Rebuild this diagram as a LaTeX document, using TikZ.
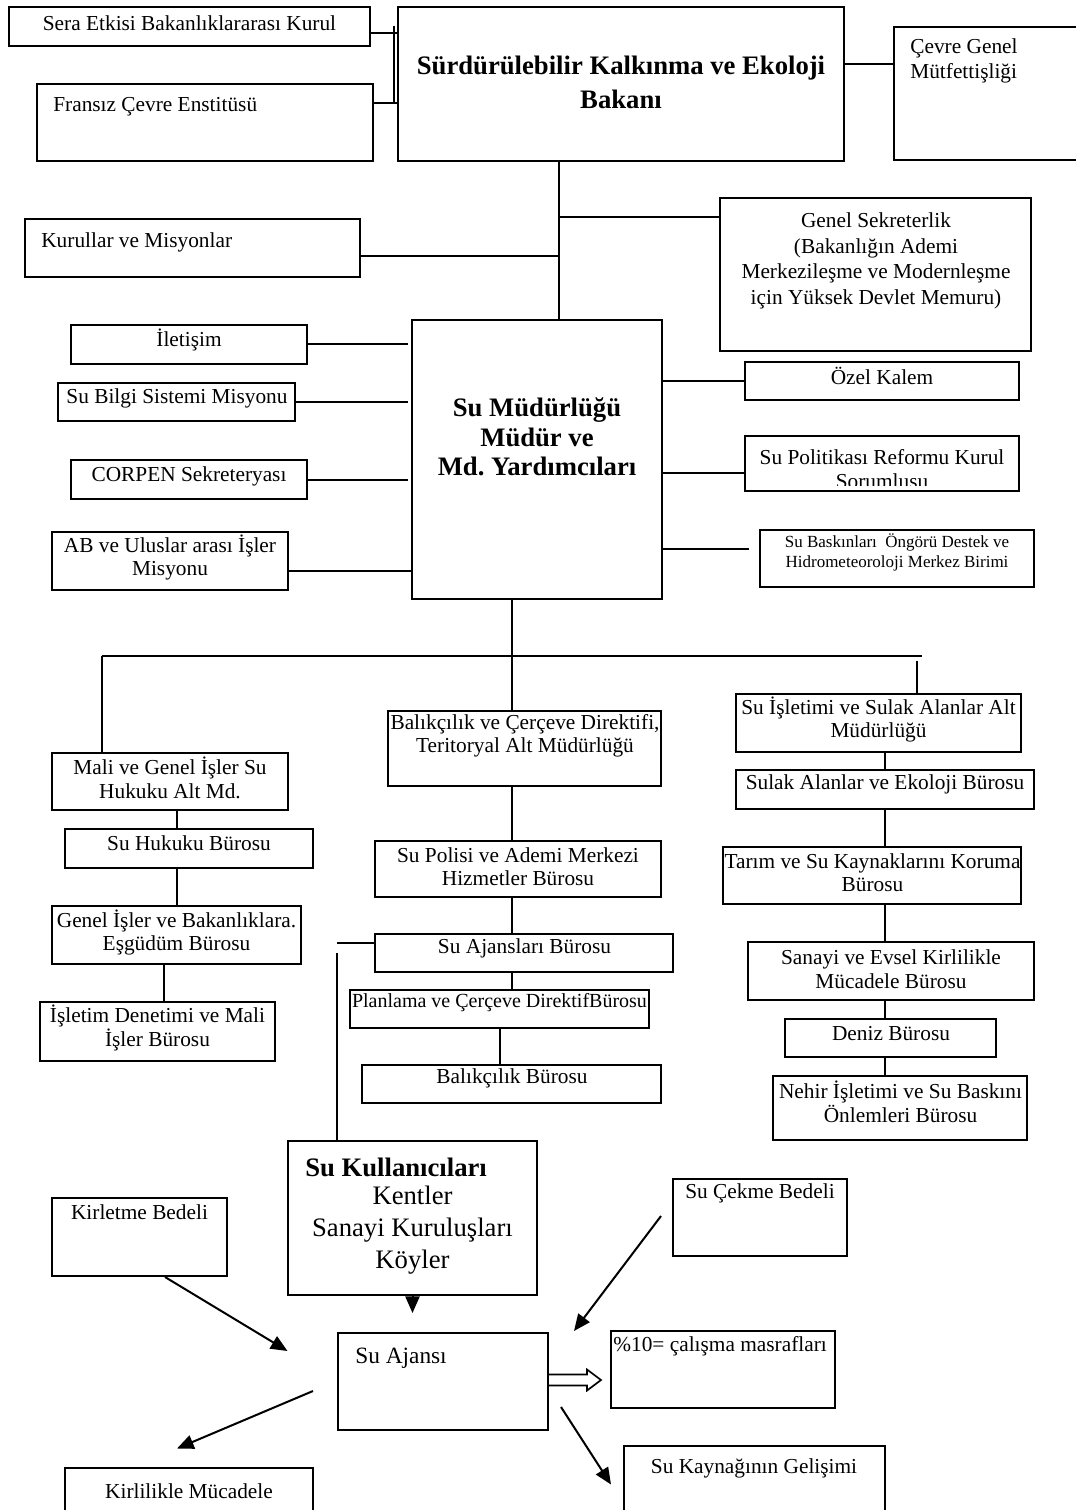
\documentclass[tikz,border=0pt]{standalone}
\usepackage{fontspec}
\setmainfont{Liberation Serif}
\usetikzlibrary{arrows.meta,fit,calc}
\frenchspacing

% a framed box given by two opposite corners
\newcommand\orgbox[5]{\node[box,fit={(#2,#3) (#4,#5)}] (#1) {};}

\begin{document}
\begin{tikzpicture}[x=0.6pt,y=-0.6pt,
  box/.style={draw,line width=1.2pt,rectangle,inner sep=0pt},
  txt/.style={inner sep=0pt,align=center,font=\fontsize{12.8}{14.1}\selectfont},
  lnk/.style={line width=1.2pt},
  arr/.style={line width=1.2pt,-{Triangle[length=10pt,width=8.5pt]}},
]
\useasboundingbox (0,0) rectangle (1076,1510);
\fill[white] (0,0) rectangle (1076,1510);
\clip (0,0) rectangle (1076,1510);

% ---------- boxes ----------
\orgbox{sera}{9}{7}{370}{46}
\orgbox{bakan}{398}{7}{844}{161}
\orgbox{fransiz}{37}{84}{373}{161}
\orgbox{cevre}{894}{27}{1090}{160}
\orgbox{kurul}{25}{219}{360}{277}
\orgbox{gensek}{720}{198}{1031}{351}
\orgbox{sumud}{412}{320}{662}{599}
\orgbox{iletisim}{71}{325}{307}{364}
\orgbox{bilgi}{58}{383}{295}{421}
\orgbox{corpen}{71}{460}{307}{499}
\orgbox{ab}{52}{532}{288}{590}
\orgbox{ozel}{745}{362}{1019}{400}
\orgbox{polit}{745}{436}{1019}{491}
\orgbox{baskin}{760}{530}{1034}{587}
\orgbox{mali}{52}{753}{288}{810}
\orgbox{hukuk}{65}{829}{313}{868}
\orgbox{genis}{52}{906}{301}{964}
\orgbox{isletim}{40}{1002}{275}{1061}
\orgbox{balik}{388}{711}{661}{786}
\orgbox{polis}{375}{841}{661}{897}
\orgbox{ajans}{375}{934}{673}{972}
\orgbox{plan}{350}{990}{649}{1028}
\orgbox{balburo}{362}{1065}{661}{1103}
\orgbox{suis}{736}{694}{1021}{752}
\orgbox{sulak}{736}{770}{1034}{809}
\orgbox{tarim}{723}{847}{1021}{904}
\orgbox{sanayi}{748}{942}{1034}{1000}
\orgbox{deniz}{785}{1019}{996}{1057}
\orgbox{nehir}{773}{1076}{1027}{1140}
\orgbox{kullan}{288}{1141}{537}{1295}
\orgbox{kirlet}{52}{1198}{227}{1276}
\orgbox{cekme}{673}{1179}{847}{1256}
\orgbox{ajansi}{338}{1333}{548}{1430}
\orgbox{masraf}{611}{1331}{835}{1408}
\orgbox{mucadele}{65}{1468}{313}{1530}
\orgbox{gelisim}{624}{1446}{885}{1530}

% ---------- texts ----------
\node[txt] (t-sera) at (189.5,23) {Sera Etkisi Bakanlıklararası Kurul};
\node[txt,font=\bfseries\fontsize{16}{20.4}\selectfont] (t-bakan) at (621,82) {Sürdürülebilir Kalkınma ve Ekoloji\\Bakanı};
\node[txt,anchor=west] (t-fransiz) at (53,107) {Fransız Çevre Enstitüsü};
\node[txt,anchor=west,align=left,font=\fontsize{12.8}{15}\selectfont] (t-cevre) at (910,60.5) {Çevre Genel\\Mütfettişliği};
\node[txt,anchor=west] (t-kurul) at (41,242) {Kurullar ve Misyonlar};
\node[txt,font=\fontsize{12.8}{15.3}\selectfont] (t-gensek) at (876,261) {Genel Sekreterlik\\(Bakanlığın Ademi\\Merkezileşme ve Modernleşme\\için Yüksek Devlet Memuru)};
\node[txt,font=\bfseries\fontsize{16}{17.7}\selectfont] (t-sumud) at (537,437) {Su Müdürlüğü\\Müdür ve\\Md. Yardımcıları};
\node[txt] (t-iletisim) at (189,340) {İletişim};
\node[txt] (t-bilgi) at (177,398) {Su Bilgi Sistemi Misyonu};
\node[txt] (t-corpen) at (189,476) {CORPEN Sekreteryası};
\node[txt] (t-ab) at (170,557.5) {AB ve Uluslar arası İşler\\Misyonu};
\node[txt] (t-ozel) at (882,376) {Özel Kalem};
\begin{scope}
  % the second line is cut off by the frame
  \clip (745,436) rectangle (1019,485);
  \node[txt] (t-polit) at (882,469) {Su Politikası Reformu Kurul\\Sorumlusu};
\end{scope}
\node[txt,font=\fontsize{10.2}{12}\selectfont] (t-baskin) at (897,552) {Su Baskınları\ \ Öngörü Destek ve\\Hidrometeoroloji Merkez Birimi};
\node[txt] (t-mali) at (170,778) {Mali ve Genel İşler Su\\Hukuku Alt Md.};
\node[txt] (t-hukuk) at (189,843) {Su Hukuku Bürosu};
\node[txt] (t-genis) at (176.5,932.5) {Genel İşler ve Bakanlıklara.\\Eşgüdüm Bürosu};
\node[txt] (t-isletim) at (157.5,1028) {İşletim Denetimi ve Mali\\İşler Bürosu};
\node[txt] (t-balik) at (525,736) {Balıkçılık ve Çerçeve Direktifi,\\Teritoryal Alt Müdürlüğü};
\node[txt] (t-polis) at (518,866.5) {Su Polisi ve Ademi Merkezi\\Hizmetler Bürosu};
\node[txt] (t-ajans) at (524.5,948) {Su Ajansları Bürosu};
\node[txt,font=\fontsize{12}{14}\selectfont] (t-plan) at (499.5,1003) {Planlama ve Çerçeve DirektifBürosu};
\node[txt] (t-balburo) at (512,1078) {Balıkçılık Bürosu};
\node[txt] (t-suis) at (878.5,719.5) {Su İşletimi ve Sulak Alanlar Alt\\Müdürlüğü};
\node[txt] (t-sulak) at (885,784) {Sulak Alanlar ve Ekoloji Bürosu};
\node[txt] (t-tarim) at (872.5,872.5) {Tarım ve Su Kaynaklarını Koruma\\Bürosu};
\node[txt] (t-sanayi) at (891,969) {Sanayi ve Evsel Kirlilikle\\Mücadele Bürosu};
\node[txt] (t-deniz) at (891,1034) {Deniz Bürosu};
\node[txt] (t-nehir) at (900.5,1102) {Nehir İşletimi ve Su Baskını\\Önlemleri Bürosu};
\node[txt,anchor=west,font=\bfseries\fontsize{16}{19.2}\selectfont] (t-kullan1) at (305,1167) {Su Kullanıcıları};
\node[txt,font=\fontsize{16}{19.2}\selectfont] (t-kullan2) at (412.5,1230) {Kentler\\Sanayi Kuruluşları\\Köyler};
\node[txt] (t-kirlet) at (139.5,1212) {Kirletme Bedeli};
\node[txt] (t-cekme) at (760,1193) {Su Çekme Bedeli};
\node[txt,anchor=west,font=\fontsize{14}{16}\selectfont] (t-ajansi) at (355,1358) {Su Ajansı};
\node[txt,anchor=west] (t-masraf) at (613,1346) {\%10= çalışma masrafları};
\node[txt] (t-mucadele) at (189,1491) {Kirlilikle Mücadele};
\node[txt] (t-gelisim) at (754,1468.5) {Su Kaynağının Gelişimi};

% ---------- minister level ----------
\coordinate (vtop) at (394,26);
\coordinate (vbot) at (394,103);
\coordinate (seraj) at (394,33);
\draw[lnk] (vtop) -- (vbot);
\draw[lnk] (sera.east |- seraj) -- (bakan.west |- seraj);
\draw[lnk] (fransiz.east |- vbot) -- (bakan.west |- vbot);
\coordinate (cevj) at (870,64);
\draw[lnk] (bakan.east |- cevj) -- (cevre.west |- cevj);
\coordinate (sp1) at (559,217);
\coordinate (sp2) at (559,256);
\draw[lnk] (bakan.south -| sp1) -- (sumud.north -| sp1);
\draw[lnk] (sp1) -- (gensek.west |- sp1);
\draw[lnk] (sp2) -- (kurul.east |- sp2);

% ---------- directorate staff ----------
\coordinate (gapL) at (408,0);
\draw[lnk] (iletisim.east) -- (iletisim.east -| gapL);
\draw[lnk] (bilgi.east) -- (bilgi.east -| gapL);
\draw[lnk] (corpen.east) -- (corpen.east -| gapL);
\coordinate (abj) at (350,571);
\draw[lnk] (ab.east |- abj) -- (sumud.west |- abj);
\draw[lnk] (sumud.east |- ozel.west) -- (ozel.west);
\coordinate (polj) at (700,473);
\draw[lnk] (sumud.east |- polj) -- (polit.west |- polj);
\coordinate (baskj) at (748.5,549);
\draw[lnk] (sumud.east |- baskj) -- (baskj);

% ---------- sub-directorates ----------
\coordinate (busL) at (101.6,656);
\coordinate (busM) at (512,656);
\coordinate (busR) at (922,656);
\coordinate (busRv) at (917,661);
\draw[lnk] (busL) -- (busR);
\draw[lnk] (sumud.south -| busM) -- (balik.north -| busM);
\draw[lnk] (busL) -- (mali.north -| busL);
\draw[lnk] (busRv) -- (suis.north -| busRv);

% left column
\coordinate (lc1) at (177,0);
\coordinate (lc2) at (164,0);
\draw[lnk] (mali.south -| lc1) -- (hukuk.north -| lc1);
\draw[lnk] (hukuk.south -| lc1) -- (genis.north -| lc1);
\draw[lnk] (genis.south -| lc2) -- (isletim.north -| lc2);

% middle column
\draw[lnk] (balik.south -| busM) -- (polis.north -| busM);
\draw[lnk] (polis.south -| busM) -- (ajans.north -| busM);
\draw[lnk] (ajans.south -| busM) -- (plan.north -| busM);
\coordinate (mc2) at (500,0);
\draw[lnk] (plan.south -| mc2) -- (balburo.north -| mc2);
\coordinate (aj1) at (337,943);
\coordinate (aj2) at (337,953);
\draw[lnk] (aj1) -- (ajans.west |- aj1);
\draw[lnk] (aj2) -- (kullan.north -| aj2);

% right column
\coordinate (rc) at (884.5,0);
\draw[lnk] (suis.south -| rc) -- (sulak.north -| rc);
\draw[lnk] (sulak.south -| rc) -- (tarim.north -| rc);
\draw[lnk] (tarim.south -| rc) -- (sanayi.north -| rc);
\draw[lnk] (sanayi.south -| rc) -- (deniz.north -| rc);
\draw[lnk] (deniz.south -| rc) -- (nehir.north -| rc);

% ---------- water agency flows ----------
\coordinate (kuA) at (412.5,1313);
\draw[arr] (kullan.south) -- (kullan.south |- kuA);
\coordinate (kiS) at (165,1276);
\coordinate (kiE) at (287.5,1351);
\draw[arr] (kirlet.south -| kiS) -- (kiE);
\coordinate (ceS) at (661,1216);
\coordinate (ceE) at (574,1331);
\draw[arr] (ceS) -- (ceE);
\coordinate (muS) at (313,1391);
\coordinate (muE) at (177,1448.5);
\draw[arr] (muS) -- (muE);
\coordinate (geS) at (561,1407);
\coordinate (geE) at (611,1484.5);
\draw[arr] (geS) -- (geE);
\coordinate (hol) at (548,1380);
\draw[line width=1pt,fill=white] (ajansi.east |- hol) ++(0,-5.5) -- ++(38,0) -- ++(0,-5)
  -- ++(14,10.5) -- ++(-14,10.5) -- ++(0,-5) -- ++(-38,0);
\end{tikzpicture}
\end{document}
